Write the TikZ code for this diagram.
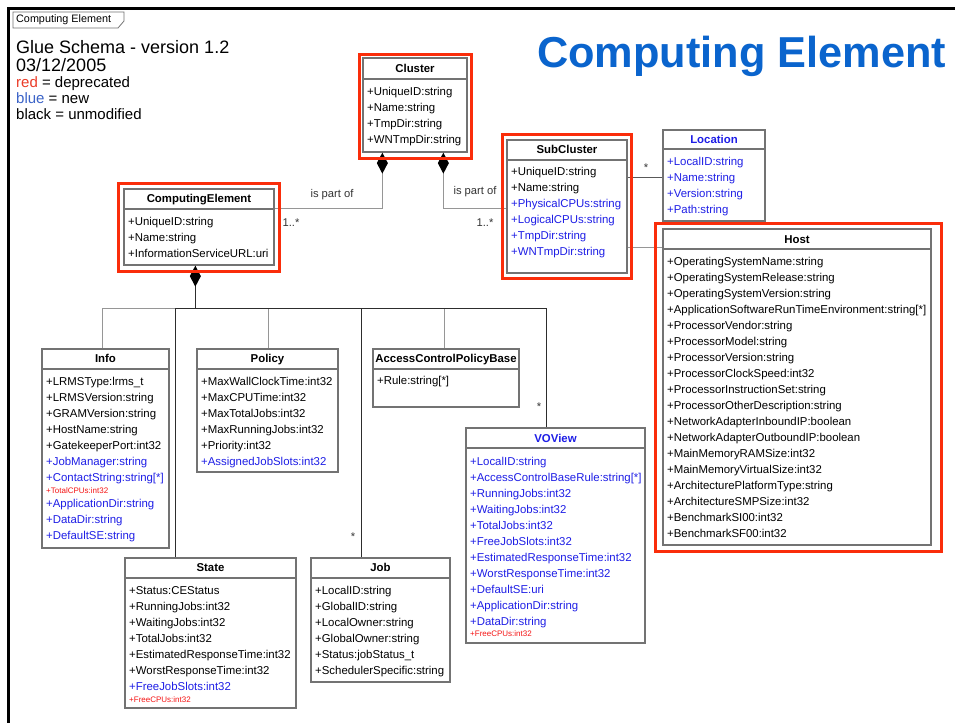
\documentclass[tikz,border=0pt]{standalone}
\usepackage{fontspec}
\setmainfont{Liberation Sans}
\usetikzlibrary{arrows.meta,calc,fit}
\definecolor{hl}{RGB}{250,45,10}
\definecolor{newblue}{RGB}{30,30,230}
\definecolor{titleblue}{RGB}{10,100,205}
\definecolor{boxgray}{RGB}{115,115,115}
\definecolor{depred}{RGB}{245,20,20}
\definecolor{legred}{RGB}{235,60,40}
\definecolor{legblue}{RGB}{60,100,200}
\definecolor{conngray}{RGB}{150,150,150}
\definecolor{conndark}{RGB}{45,45,45}
\begin{document}
\begin{tikzpicture}[x=1pt,y=-1pt,
 classbox/.style={draw=boxgray, line width=1.3pt, fill=white, inner sep=0pt},
 sepline/.style={draw=boxgray, line width=1.1pt},
 ctitle/.style={font=\fontsize{11.4}{13}\selectfont\bfseries, inner sep=0pt, text height=8pt, text depth=2pt},
 attr/.style={font=\fontsize{11.4}{13}\selectfont, anchor=west, inner sep=0pt, text height=8pt, text depth=2pt},
 nattr/.style={attr, text=newblue},
 dattr/.style={font=\fontsize{8}{9}\selectfont, anchor=west, inner sep=0pt, text=depred, text height=6pt, text depth=1.5pt},
 hlbox/.style={draw=hl, line width=3pt, inner sep=0pt},
 conn/.style={draw=conngray, line width=1.1pt},
 dconn/.style={draw=conndark, line width=1.1pt},
 comp/.style={{Diamond[color=black,width=11pt,length=21pt]}-},
 lbl/.style={font=\fontsize{11.2}{13}\selectfont, inner sep=0pt, text=black!80}
]
\useasboundingbox (0,0) rectangle (955,723);
\fill[white] (0,0) rectangle (955,723);
% frame
\draw[line width=3pt] (955,8.5) -- (8.5,8.5) -- (8.5,723);
\draw[boxgray, line width=0.8pt] (13,12) -- (124,12) -- (124,21) -- (118,28) -- (13,28) -- cycle;
\node[anchor=west, inner sep=0pt, font=\fontsize{10.8}{12}\selectfont] (tab) at (16,20) {Computing Element};
% legend
\node[anchor=base west, inner sep=0pt, font=\fontsize{18}{20}\selectfont] (l1) at (16,53) {Glue Schema - version 1.2};
\node[anchor=base west, inner sep=0pt, font=\fontsize{18}{20}\selectfont] (l2) at (16,71) {03/12/2005};
\node[anchor=base west, inner sep=0pt, font=\fontsize{15}{17}\selectfont] (l3) at (16,87) {\textcolor{legred}{red} = deprecated};
\node[anchor=base west, inner sep=0pt, font=\fontsize{15}{17}\selectfont] (l4) at (16,103) {\textcolor{legblue}{blue} = new};
\node[anchor=base west, inner sep=0pt, font=\fontsize{15}{17}\selectfont] (l5) at (16,119) {black = unmodified};
\node[anchor=base west, inner sep=0pt, font=\fontsize{43.3}{48}\selectfont\bfseries, text=titleblue] (title) at (537,67) {Computing Element};

% ---------- Cluster
\node[classbox, fit={(363,58) (467,152)}] (cluster) {};
\draw[sepline] (363,79) -- (467,79);
\node[ctitle] (cluster-t) at (415,69) {Cluster};
\foreach \t [count=\i from 0] in {UniqueID:string,Name:string,TmpDir:string,WNTmpDir:string}
  \node[attr] (cluster-\i) at (367,{92+16*\i}) {+\t};
% ---------- ComputingElement
\node[classbox, fit={(124,189) (274,265)}] (ce) {};
\draw[sepline] (124,209) -- (274,209);
\node[ctitle] (ce-t) at (199,199) {ComputingElement};
\foreach \t [count=\i from 0] in {UniqueID:string,Name:string,InformationServiceURL:uri}
  \node[attr] (ce-\i) at (128,{222+16*\i}) {+\t};
% ---------- SubCluster
\node[classbox, fit={(507,140) (627,273)}] (subcluster) {};
\draw[sepline] (507,160) -- (627,160);
\node[ctitle] (sc-t) at (567,150) {SubCluster};
\node[attr] (sc-0) at (511,172) {+UniqueID:string};
\node[attr] (sc-1) at (511,188) {+Name:string};
\node[nattr] (sc-2) at (511,204) {+PhysicalCPUs:string};
\node[nattr] (sc-3) at (511,220) {+LogicalCPUs:string};
\node[nattr] (sc-4) at (511,236) {+TmpDir:string};
\node[nattr] (sc-5) at (511,252) {+WNTmpDir:string};
% ---------- Location
\node[classbox, fit={(663,130) (765,221)}] (location) {};
\draw[sepline] (663,149) -- (765,149);
\node[ctitle, text=newblue] (loc-t) at (714,140) {Location};
\foreach \t [count=\i from 0] in {LocalID:string,Name:string,Version:string,Path:string}
  \node[nattr] (loc-\i) at (667,{162+16*\i}) {+\t};
% ---------- Host
\node[classbox, fit={(663,229) (931,545)}] (host) {};
\draw[sepline] (663,249) -- (931,249);
\node[ctitle] (host-t) at (797,240) {Host};
\foreach \t [count=\i from 0] in {OperatingSystemName:string,OperatingSystemRelease:string,OperatingSystemVersion:string,ApplicationSoftwareRunTimeEnvironment:string[*],ProcessorVendor:string,ProcessorModel:string,ProcessorVersion:string,ProcessorClockSpeed:int32,ProcessorInstructionSet:string,ProcessorOtherDescription:string,NetworkAdapterInboundIP:boolean,NetworkAdapterOutboundIP:boolean,MainMemoryRAMSize:int32,MainMemoryVirtualSize:int32,ArchitecturePlatformType:string,ArchitectureSMPSize:int32,BenchmarkSI00:int32,BenchmarkSF00:int32}
  \node[attr] (host-\i) at (667,{262+16*\i}) {+\t};
% ---------- Info
\node[classbox, fit={(42,349) (169,548)}] (info) {};
\draw[sepline] (42,369) -- (169,369);
\node[ctitle] (info-t) at (105.5,359) {Info};
\node[attr] (info-0) at (46,382) {+LRMSType:lrms\_t};
\node[attr] (info-1) at (46,398) {+LRMSVersion:string};
\node[attr] (info-2) at (46,414) {+GRAMVersion:string};
\node[attr] (info-3) at (46,430) {+HostName:string};
\node[attr] (info-4) at (46,446) {+GatekeeperPort:int32};
\node[nattr] (info-5) at (46,462) {+JobManager:string};
\node[nattr] (info-6) at (46,478) {+ContactString:string[*]};
\node[dattr] (info-7) at (46,491) {+TotalCPUs:int32};
\node[nattr] (info-8) at (46,504) {+ApplicationDir:string};
\node[nattr] (info-9) at (46,520) {+DataDir:string};
\node[nattr] (info-10) at (46,536) {+DefaultSE:string};
% ---------- Policy
\node[classbox, fit={(197,349) (338,472)}] (policy) {};
\draw[sepline] (197,369) -- (338,369);
\node[ctitle] (pol-t) at (267.5,359) {Policy};
\foreach \t [count=\i from 0] in {MaxWallClockTime:int32,MaxCPUTime:int32,MaxTotalJobs:int32,MaxRunningJobs:int32,Priority:int32}
  \node[attr] (pol-\i) at (201,{382+16*\i}) {+\t};
\node[nattr] (pol-5) at (201,462) {+AssignedJobSlots:int32};
% ---------- AccessControlPolicyBase
\node[classbox, fit={(373,349) (519,407)}] (acpb) {};
\draw[sepline] (373,369) -- (519,369);
\node[ctitle] (acpb-t) at (446,359) {AccessControlPolicyBase};
\node[attr] (acpb-0) at (377,381) {+Rule:string[*]};
% ---------- VOView
\node[classbox, fit={(466,428) (645,643)}] (voview) {};
\draw[sepline] (466,448) -- (645,448);
\node[ctitle, text=newblue] (vo-t) at (555.5,439) {VOView};
\foreach \t [count=\i from 0] in {LocalID:string,AccessControlBaseRule:string[*],RunningJobs:int32,WaitingJobs:int32,TotalJobs:int32,FreeJobSlots:int32,EstimatedResponseTime:int32,WorstResponseTime:int32,DefaultSE:uri,ApplicationDir:string,DataDir:string}
  \node[nattr] (vo-\i) at (470,{462+16*\i}) {+\t};
\node[dattr] (vo-11) at (470,634) {+FreeCPUs:int32};
% ---------- State
\node[classbox, fit={(125,558) (296,708)}] (state) {};
\draw[sepline] (125,578) -- (296,578);
\node[ctitle] (st-t) at (210.5,568) {State};
\foreach \t [count=\i from 0] in {Status:CEStatus,RunningJobs:int32,WaitingJobs:int32,TotalJobs:int32,EstimatedResponseTime:int32,WorstResponseTime:int32}
  \node[attr] (st-\i) at (129,{591+16*\i}) {+\t};
\node[nattr] (st-6) at (129,687) {+FreeJobSlots:int32};
\node[dattr] (st-7) at (129,700) {+FreeCPUs:int32};
% ---------- Job
\node[classbox, fit={(311,558) (450,682)}] (job) {};
\draw[sepline] (311,578) -- (450,578);
\node[ctitle] (job-t) at (380.5,568) {Job};
\foreach \t [count=\i from 0] in {LocalID:string,GlobalID:string,LocalOwner:string,GlobalOwner:string,Status:jobStatus\_t,SchedulerSpecific:string}
  \node[attr] (job-\i) at (315,{591+16*\i}) {+\t};

% ---------- connectors
\draw[conn, comp] ($(cluster.south west)+(20,0)$) |- ($(ce.north east)+(0,20)$);
\draw[conn, comp] ($(cluster.south west)+(81,0)$) |- ($(subcluster.north west)+(0,69)$);
\draw[dconn, draw=black!65] ($(subcluster.north east)+(0,38)$) -- ($(location.north west)+(0,48)$);
\draw[conn] ($(subcluster.north east)+(0,108)$) -- ($(host.north west)+(0,19)$);
\coordinate (ce-d) at ($(ce.south west)+(72,0)$);
\draw[conn] (ce-d) -- ++(0,43) -| ($(info.north west)+(61,0)$);
\draw[conn] (ce-d) -- ++(0,43) -| ($(policy.north west)+(72,0)$);
\draw[conn] (ce-d) -- ++(0,43) -| ($(acpb.north west)+(72,0)$);
\draw[dconn] (ce-d) -- ++(0,43) -| ($(state.north west)+(51,0)$);
\draw[dconn] (ce-d) -- ++(0,43) -| ($(job.north west)+(51,0)$);
\draw[dconn, comp] (ce-d) -- ++(0,43) -| ($(voview.north west)+(81,0)$);
% labels
\node[lbl] (lb1) at (332,195) {is part of};
\node[lbl] (lb2) at (291,223) {1..*};
\node[lbl] (lb3) at (475,192) {is part of};
\node[lbl] (lb4) at (485,223) {1..*};
\node[lbl] (lb5) at (646,168) {*};
\node[lbl] (lb6) at (353,537) {*};
\node[lbl] (lb7) at (539,407) {*};
% highlight rectangles
\node[hlbox, fit={(359,54) (471,158)}] (cluster-hl) {};
\node[hlbox, fit={(118,183) (279,271)}] (ce-hl) {};
\node[hlbox, fit={(502,134) (631,278)}] (sc-hl) {};
\node[hlbox, fit={(655,223) (941,551)}] (host-hl) {};
\end{tikzpicture}
\end{document}
